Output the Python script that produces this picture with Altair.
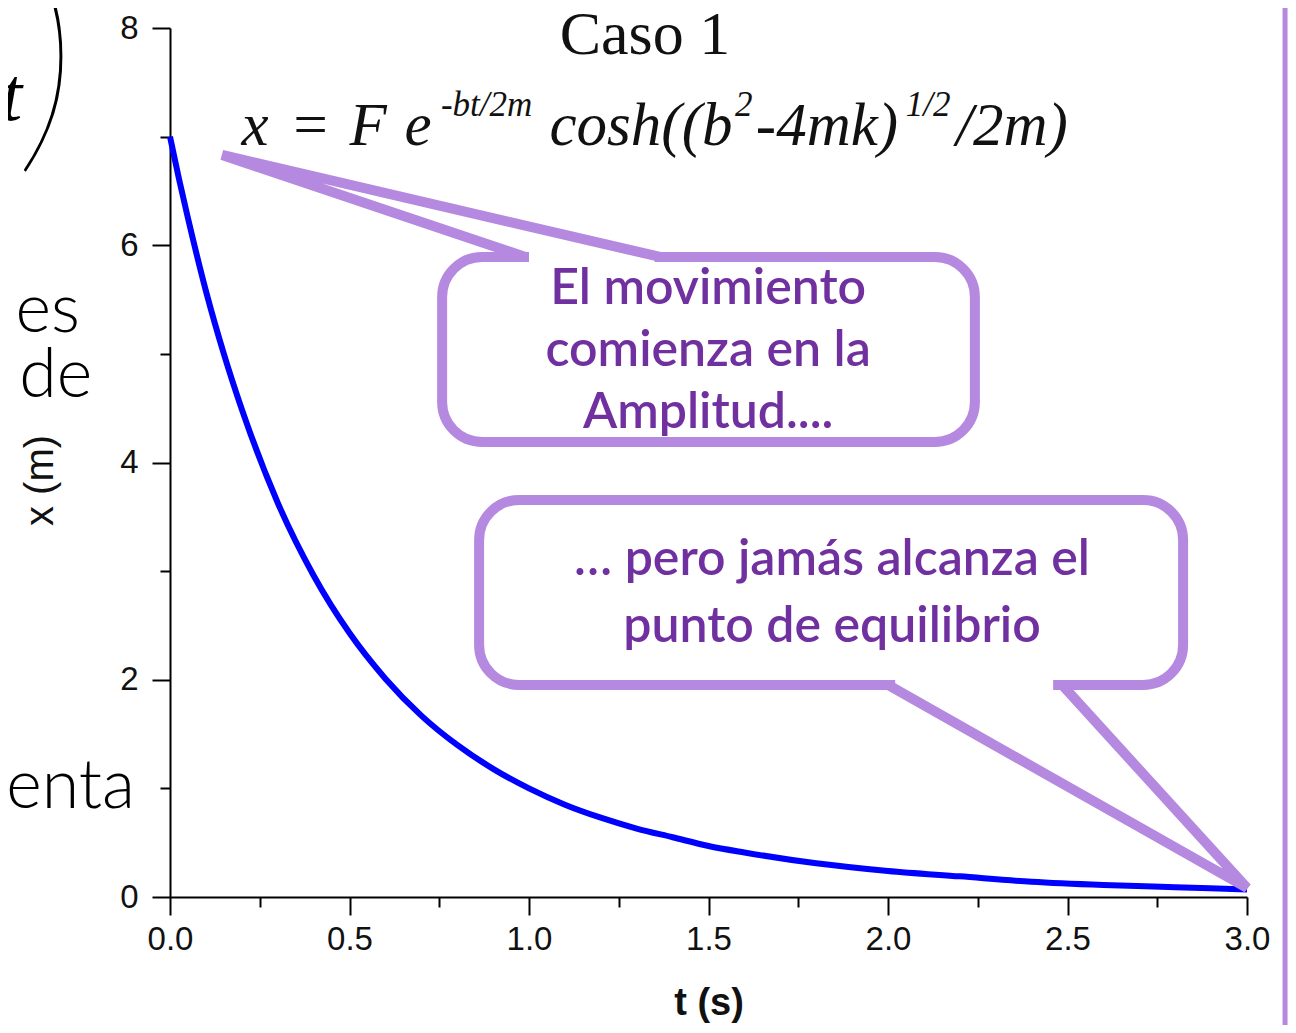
import altair as alt
import pandas as pd

# ---- curve data ----
t_vals = [0.0, 0.025, 0.05, 0.1, 0.15, 0.2, 0.3, 0.4, 0.5, 0.6, 0.7, 0.8, 0.9, 1.0,
          1.1, 1.2, 1.3, 1.4, 1.5, 1.6, 1.8, 2.0, 2.2, 2.4, 2.6, 2.8, 3.0]
x_vals = [7.0, 6.61, 6.25, 5.58, 5.0, 4.49, 3.63, 2.96, 2.43, 2.01, 1.67, 1.40, 1.18, 1.00,
          0.85, 0.73, 0.63, 0.55, 0.47, 0.41, 0.31, 0.24, 0.19, 0.14, 0.11, 0.09, 0.07]

y_ticks = [0, 1, 2, 3, 4, 5, 6, 7, 8]
x_ticks = [0, 0.25, 0.5, 0.75, 1.0, 1.25, 1.5, 1.75, 2.0, 2.25, 2.5, 2.75, 3.0]

title_text = "Caso 1"
x_title = "t (s)"
y_title = "x (m)"

# formula pieces: main-line glyph groups and superscripts (centre positions in data units)
formula_main_parts = ["x", "=", "F", "e", "cosh((b", "-4mk)", "/2m)"]
formula_main_t = [0.237, 0.390, 0.552, 0.691, 1.312, 1.830, 2.345]
formula_sup_parts = ["-bt/2m", "2", "1/2"]
formula_sup_t = [0.882, 1.598, 2.112]

bubble1_lines = ["El movimiento", "comienza en la", "Amplitud...."]
bubble2_lines = ["… pero jamás alcanza el", "punto de equilibrio"]

slide_words = ["es", "de", "enta"]

PURPLE = "#B589E0"
TEXT_PURPLE = "#7030A0"

xs = alt.Scale(domain=[0, 3], nice=False, zero=False)
ys = alt.Scale(domain=[0, 8], nice=False, zero=False)

x_axis = alt.Axis(values=x_ticks, grid=False, labelOverlap=False,
                  labelExpr="(round(datum.value*100) % 50 == 0) ? format(datum.value, '.1f') : ''",
                  tickSize={"condition": {"test": "round(datum.value*100) % 50 == 0", "value": 18}, "value": 10},
                  labelPadding=8, labelFontSize=33, titleFontSize=38, titleFontWeight="bold",
                  titleY=106, titleBaseline="middle")
y_axis = alt.Axis(values=y_ticks, grid=False, labelOverlap=False,
                  labelExpr="datum.value % 2 == 0 ? datum.label : ''",
                  tickSize={"condition": {"test": "datum.value % 2 == 0", "value": 18}, "value": 10},
                  labelPadding=14, labelFontSize=33, titleFontSize=40, titleFontWeight="normal",
                  titleX=-130, titleY=452, titleBaseline="middle")


def X(f="t"):
    return alt.X(f"{f}:Q", scale=xs, axis=x_axis, title=x_title)


def Y(f="v"):
    return alt.Y(f"{f}:Q", scale=ys, axis=y_axis, title=y_title)


curve_df = pd.DataFrame({"t": t_vals, "v": x_vals})
curve = alt.Chart(curve_df).mark_line(color="#0000FF", strokeWidth=6, interpolate="monotone").encode(
    x=X(), y=Y())

# ---- title and formula ----
title_df = pd.DataFrame({"t": [1.323], "v": [7.936], "label": [title_text]})
title = alt.Chart(title_df).mark_text(font="Liberation Serif", fontSize=62, baseline="middle",
                                      align="center", color="#111").encode(x=X(), y=Y(), text="label:N")

f_main = pd.DataFrame({"t": formula_main_t, "v": [6.923] * len(formula_main_t), "label": formula_main_parts})
f_sup = pd.DataFrame({"t": formula_sup_t, "v": [7.19] * len(formula_sup_t), "label": formula_sup_parts})
formula_main = alt.Chart(f_main).mark_text(font="Liberation Serif", fontStyle="italic", fontSize=61,
                                           align="center", baseline="alphabetic", color="#111").encode(
    x=X(), y=Y(), text="label:N")
formula_sup_l = alt.Chart(f_sup).mark_text(font="Liberation Serif", fontStyle="italic", fontSize=35,
                                           align="center", baseline="alphabetic", color="#111").encode(
    x=X(), y=Y(), text="label:N")

# ---- bubbles ----
boxes_df = pd.DataFrame({"t": [0.758, 0.861], "x2": [2.242, 2.822],
                         "v": [5.892, 3.655], "y2": [4.189, 1.952]})
boxes = alt.Chart(boxes_df).mark_rect(cornerRadius=40, fill="white", stroke=PURPLE, strokeWidth=10).encode(
    x=X(), x2="x2:Q", y=Y(), y2="y2:Q")

cover_df = pd.DataFrame({"t": [1.0, 2.02], "x2": [1.35, 2.46], "v": [5.892, 1.952]})
covers = alt.Chart(cover_df).mark_rule(color="white", strokeWidth=14).encode(
    x=X(), x2="x2:Q", y=Y())

tail_df = pd.DataFrame({
    "shape": ["a", "a", "a", "b", "b", "b"],
    "o": [0, 1, 2, 0, 1, 2],
    "t": [0.99, 0.145, 1.365, 2.0, 3.0, 2.485],
    "v": [5.892, 6.831, 5.892, 1.952, 0.083, 1.952],
})
tails = alt.Chart(tail_df).mark_line(color=PURPLE, strokeWidth=10, strokeJoin="miter",
                                     strokeMiterLimit=6).encode(
    x=X(), y=Y(), detail="shape:N", order="o:Q")

b1_df = pd.DataFrame({"t": [1.499] * 3, "v": [5.597, 5.027, 4.456], "label": bubble1_lines})
b2_df = pd.DataFrame({"t": [1.844] * 2, "v": [3.102, 2.486], "label": bubble2_lines})
b_df = pd.concat([b1_df, b2_df])
btext = alt.Chart(b_df).mark_text(font="Lato", fontSize=50, fontWeight=600, color=TEXT_PURPLE,
                                  align="center", baseline="middle").encode(x=X(), y=Y(), text="label:N")

# ---- right purple edge ----
edge_df = pd.DataFrame({"t": [3.106], "v": [-1.3], "y2": [8.3]})
edge = alt.Chart(edge_df).mark_rule(color=PURPLE, strokeWidth=5).encode(
    x=X(), y=Y(), y2="y2:Q")

# ---- slide fragments on the left ----
words_df = pd.DataFrame({"t": [-0.251, -0.217, -0.0975], "v": [5.20, 4.60, 0.82], "label": slide_words})
words = alt.Chart(words_df).mark_text(font="Lato", fontSize=68, fontWeight=300, color="#000",
                                      align="right", baseline="alphabetic").encode(x=X(), y=Y(), text="label:N")

tlet_df = pd.DataFrame({"t": [-0.412], "v": [7.15], "label": ["t"]})
tlet = alt.Chart(tlet_df).mark_text(font="Liberation Serif", fontStyle="italic", fontSize=76, color="#000",
                                    align="right", baseline="alphabetic").encode(x=X(), y=Y(), text="label:N")

paren_df = pd.DataFrame({"t": [-0.345], "v": [6.97], "label": [")"]})
paren = alt.Chart(paren_df).mark_text(font="Lato", fontSize=265, fontWeight=200, color="#000",
                                      align="center", baseline="alphabetic").encode(x=X(), y=Y(), text="label:N")

chart = alt.layer(
    edge, words, tlet, paren, curve, title, formula_main, formula_sup_l,
    boxes, covers, tails, btext
).properties(
    width=1077, height=869,
    autosize=alt.AutoSizeParams(type="none"),
    padding={"left": 162, "top": 20, "right": 41, "bottom": 128},
).configure_view(strokeWidth=0).configure_axis(
    domainColor="#000", domainWidth=2, tickColor="#000", tickWidth=2,
    labelFont="Liberation Sans", labelColor="#111", titleFont="Liberation Sans", titleColor="#111",
    labelFlush=False,
)

chart.save("out.html", embed_options={"renderer": "svg", "actions": False})
